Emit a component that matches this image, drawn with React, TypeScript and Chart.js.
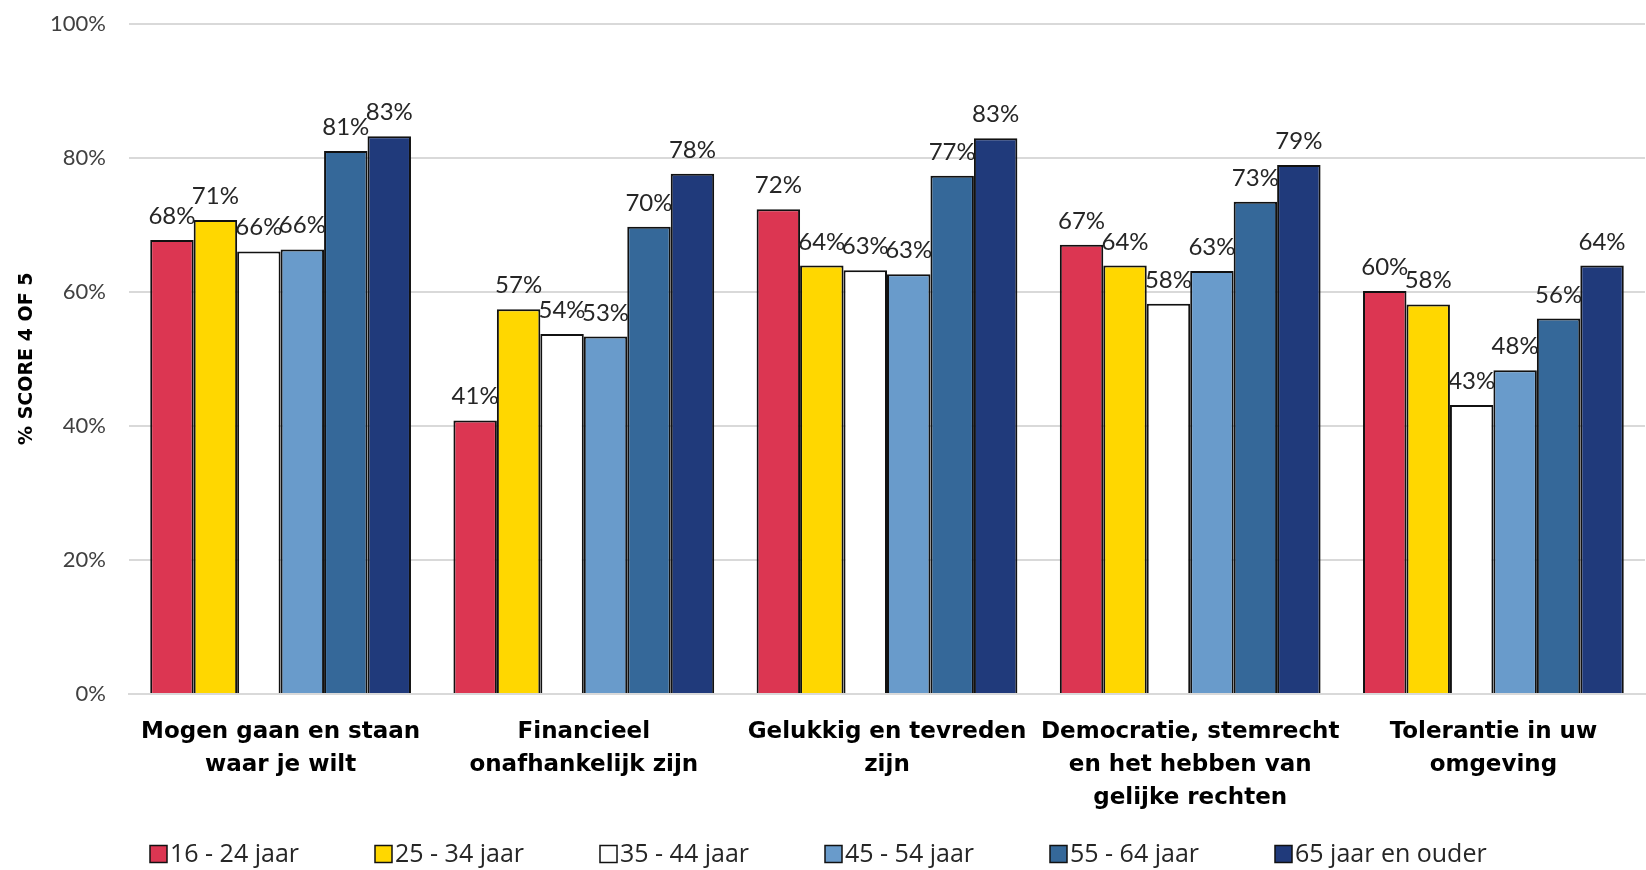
import React, { useEffect, useRef } from "react";
import { Chart, registerables } from "chart.js";

Chart.register(...registerables);

const FONT = "Lato, 'Noto Sans', sans-serif";
const WIDE = "'DejaVu Sans', 'Open Sans', sans-serif";
const LEGEND_FONT = "'Open Sans', Lato, sans-serif";

const categories: string[][] = [
  ["Mogen gaan en staan", "waar je wilt"],
  ["Financieel", "onafhankelijk zijn"],
  ["Gelukkig en tevreden", "zijn"],
  ["Democratie, stemrecht", "en het hebben van", "gelijke rechten"],
  ["Tolerantie in uw", "omgeving"],
];

const seriesNames = [
  "16 - 24 jaar",
  "25 - 34 jaar",
  "35 - 44 jaar",
  "45 - 54 jaar",
  "55 - 64 jaar",
  "65 jaar en ouder",
];

const age16to24 = [67.7, 40.8, 72.3, 67.0, 60.1];
const age25to34 = [70.7, 57.4, 63.9, 63.9, 58.1];
const age35to44 = [66.0, 53.7, 63.2, 58.2, 43.1];
const age45to54 = [66.3, 53.3, 62.6, 63.1, 48.3];
const age55to64 = [81.0, 69.7, 77.3, 73.4, 56.0];
const age65plus = [83.2, 77.6, 82.9, 78.9, 63.9];

const seriesColors = ["#DC3652", "#FFD700", "#FFFFFF", "#699BCB", "#356899", "#203A7B"];

const yTicks = [0, 20, 40, 60, 80, 100];

const dataLabelPlugin = {
  id: "dataLabels",
  afterDatasetsDraw(chart: any) {
    const ctx = chart.ctx;
    ctx.save();
    ctx.font = `24px ${FONT}`;
    ctx.fillStyle = "#262626";
    ctx.textAlign = "center";
    ctx.textBaseline = "alphabetic";
    chart.data.datasets.forEach((ds: any, i: number) => {
      const meta = chart.getDatasetMeta(i);
      meta.data.forEach((bar: any, j: number) => {
        ctx.fillText(Math.round(ds.data[j]) + "%", bar.x, bar.y - 16);
      });
    });
    ctx.restore();
  },
};

const legendPlugin = {
  id: "fixedLegend",
  afterDraw(chart: any) {
    const ctx = chart.ctx;
    ctx.save();
    const y = 854;
    chart.data.datasets.forEach((ds: any, i: number) => {
      const x = 150 + i * 225;
      ctx.fillStyle = ds.backgroundColor;
      ctx.fillRect(x, y - 8.5, 17, 17);
      ctx.strokeStyle = "#111";
      ctx.lineWidth = 1.5;
      ctx.strokeRect(x, y - 8.5, 17, 17);
      ctx.fillStyle = "#262626";
      ctx.font = `25px ${LEGEND_FONT}`;
      ctx.textAlign = "left";
      ctx.textBaseline = "middle";
      ctx.fillText(ds.label, x + 20, y + 1);
    });
    ctx.restore();
  },
};

export default function App() {
  const ref = useRef<HTMLCanvasElement | null>(null);

  useEffect(() => {
    if (!ref.current) return;
    const seriesValues = [age16to24, age25to34, age35to44, age45to54, age55to64, age65plus];
    const chart = new Chart(ref.current, {
      type: "bar",
      data: {
        labels: categories,
        datasets: seriesNames.map((name, i) => ({
          label: name,
          data: seriesValues[i],
          backgroundColor: seriesColors[i],
          borderColor: "#111",
          borderWidth: 2,
          categoryPercentage: 0.86,
          barPercentage: 1,
        })),
      },
      options: {
        responsive: false,
        animation: false,
        layout: { padding: { top: 23.5, right: 1, bottom: 0, left: 0 } },
        plugins: {
          legend: { display: false },
          tooltip: { enabled: false },
        },
        scales: {
          x: {
            grid: { display: false },
            border: { color: "#d9d9d9", width: 2 },
            ticks: {
              autoSkip: false,
              maxRotation: 0,
              minRotation: 0,
              padding: 14,
              color: "#000",
              font: { family: WIDE, size: 23, weight: "bold", lineHeight: 1.43 },
            },
            afterFit: (s: any) => {
              s.height = 176;
            },
          },
          y: {
            min: 0,
            max: 100,
            afterBuildTicks: (s: any) => {
              s.ticks = yTicks.map((v) => ({ value: v }));
            },
            ticks: {
              padding: 0,
              color: "#404040",
              font: { family: FONT, size: 22 },
              callback: (v: any) => v + "%",
            },
            grid: {
              color: "#d9d9d9",
              lineWidth: 2,
              drawTicks: true,
              tickLength: 23,
              tickColor: "rgba(0,0,0,0)",
            },
            border: { display: false },
            title: {
              display: true,
              text: "% SCORE 4 OF 5",
              color: "#000",
              font: { family: WIDE, size: 19, weight: "bold" },
              padding: { top: 16, bottom: 0 },
            },
            afterFit: (s: any) => {
              s.width = 129;
            },
          },
        },
      },
      plugins: [dataLabelPlugin, legendPlugin],
    });
    return () => chart.destroy();
  }, []);

  return (
    <div style={{ position: "absolute", left: 0, top: 0, width: 1646, height: 870, background: "#fff" }}>
      <canvas ref={ref} width={1646} height={870} style={{ display: "block" }} />
    </div>
  );
}
